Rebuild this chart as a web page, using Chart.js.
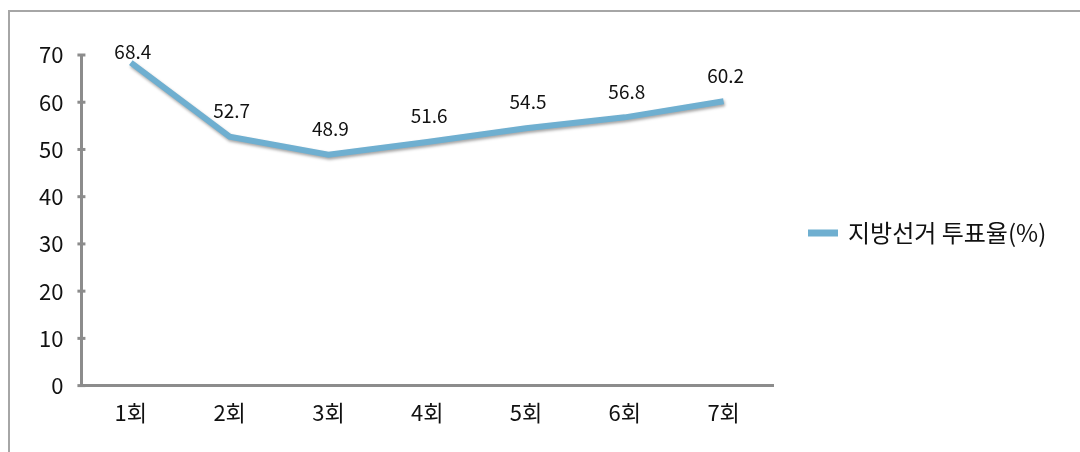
<!DOCTYPE html>
<html>
<head>
<meta charset="utf-8">
<script src="https://cdn.jsdelivr.net/npm/chart.js@4"></script>
<style>
  html, body { margin: 0; padding: 0; background: #fff; }
  #wrap { position: relative; width: 1080px; height: 452px; overflow: hidden; }
  #frame { position: absolute; left: 8px; top: 10px; width: 1100px; height: 500px;
           border-top: 2px solid #a6a6a6; border-left: 2px solid #a6a6a6; box-sizing: border-box; }
  #myChart { position: absolute; left: 0; top: 0; }
</style>
</head>
<body>
<div id="wrap">
  <div id="frame"></div>
  <canvas id="myChart" width="1080" height="452"></canvas>
</div>
<script>
const labels = ['1회', '2회', '3회', '4회', '5회', '6회', '7회'];
const turnout = [68.4, 52.7, 48.9, 51.6, 54.5, 56.8, 60.2];
const seriesName = '지방선거 투표율(%)';

const FONT = '"Noto Sans CJK KR", "Noto Sans", sans-serif';
const AXIS = '#8c8c8c';
const LINE = '#6fafd0';

// value labels above each point
const valueLabels = {
    id: 'valueLabels',
    afterDatasetsDraw(chart) {
        const ctx = chart.ctx;
        const meta = chart.getDatasetMeta(0);
        ctx.save();
        ctx.font = '19px ' + FONT;
        ctx.fillStyle = '#111';
        ctx.textAlign = 'center';
        ctx.textBaseline = 'middle';
        meta.data.forEach((pt, i) => {
            let y = Math.max(pt.y - 26, chart.chartArea.top - 3);
            ctx.fillText(turnout[i].toFixed(1), pt.x + 2, y);
        });
        ctx.restore();
    }
};

// small tick marks crossing the y axis
const crossTicks = {
    id: 'crossTicks',
    afterDraw(chart) {
        const ctx = chart.ctx;
        const y = chart.scales.y;
        const x0 = chart.chartArea.left;
        ctx.save();
        ctx.strokeStyle = AXIS;
        ctx.lineWidth = 3;
        y.ticks.forEach((t, i) => {
            const py = y.getPixelForTick(i);
            ctx.beginPath();
            ctx.moveTo(x0 - 4, py);
            ctx.lineTo(x0 + 4, py);
            ctx.stroke();
        });
        ctx.restore();
    }
};

// legend on the right, drawn by hand so it can sit where the original has it
const sideLegend = {
    id: 'sideLegend',
    afterDraw(chart) {
        const ctx = chart.ctx;
        const x = chart.chartArea.right + 35;
        const y = chart.height / 2 + 7;
        ctx.save();
        ctx.fillStyle = LINE;
        ctx.fillRect(x, y - 3.5, 30, 7);
        ctx.font = '24px ' + FONT;
        ctx.fillStyle = '#111';
        ctx.textAlign = 'left';
        ctx.textBaseline = 'middle';
        ctx.fillText(chart.data.datasets[0].label, x + 40, y);
        ctx.restore();
    }
};

// soft shadow under the line
const lineShadow = {
    id: 'lineShadow',
    beforeDatasetDraw(chart) {
        const ctx = chart.ctx;
        ctx.save();
        ctx.shadowColor = 'rgba(0,0,0,0.35)';
        ctx.shadowBlur = 3;
        ctx.shadowOffsetX = 1;
        ctx.shadowOffsetY = 2;
    },
    afterDatasetDraw(chart) {
        chart.ctx.restore();
    }
};

const ctx = document.getElementById('myChart').getContext('2d');
const myChart = new Chart(ctx, {
    type: 'line',
    data: {
        labels: labels,
        datasets: [{
            label: seriesName,
            data: turnout,
            borderColor: LINE,
            backgroundColor: LINE,
            borderWidth: 6,
            pointRadius: 0,
            tension: 0,
            fill: false
        }]
    },
    options: {
        responsive: false,
        animation: false,
        layout: { padding: { top: 55, left: 21, right: 307, bottom: 12 } },
        plugins: {
            tooltip: { enabled: false },
            legend: { display: false }
        },
        scales: {
            x: {
                offset: true,
                grid: { display: false, drawTicks: false },
                border: { display: true, color: AXIS, width: 3 },
                ticks: { color: '#111', padding: 14, font: { size: 22, family: FONT } }
            },
            y: {
                min: 0,
                max: 70,
                ticks: { stepSize: 10, color: '#111', padding: 18, font: { size: 22, family: FONT } },
                grid: { drawOnChartArea: false, drawTicks: false },
                border: { display: true, color: AXIS, width: 3 }
            }
        }
    },
    plugins: [lineShadow, valueLabels, crossTicks, sideLegend]
});
</script>
</body>
</html>
